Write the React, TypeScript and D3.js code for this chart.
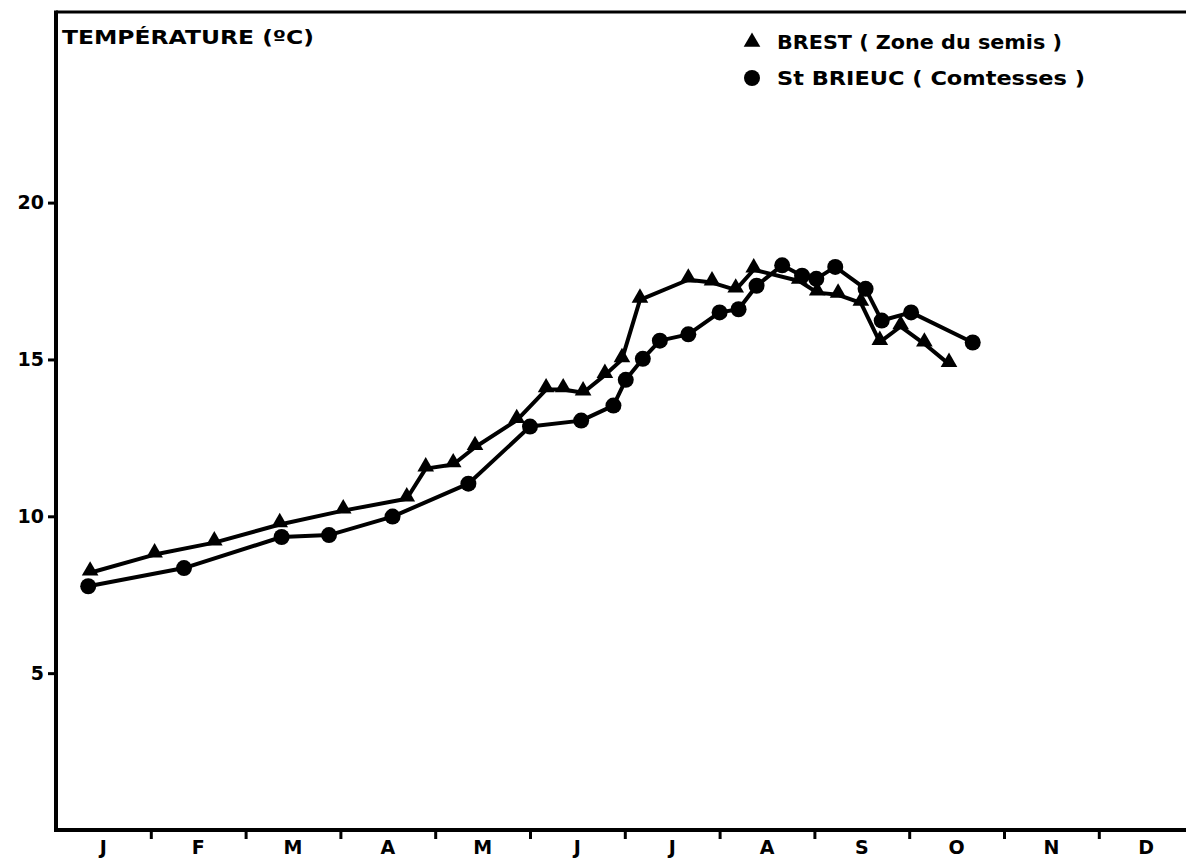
import React, { useEffect, useRef } from 'react';
import * as d3 from 'd3';

const months = ['J', 'F', 'M', 'A', 'M', 'J', 'J', 'A', 'S', 'O', 'N', 'D'];
const yTicks = [5, 10, 15, 20];

// position in months (0 = 1 January) and temperature in °C
const brestMonth = [0.36, 1.04, 1.67, 2.36, 3.03, 3.7, 3.9, 4.19, 4.42, 4.86, 5.17, 5.35, 5.56, 5.79, 5.97, 6.16, 6.67, 6.92, 7.17, 7.36, 7.84, 8.03, 8.25, 8.49, 8.69, 8.91, 9.16, 9.42];
const brestTemp = [8.2, 8.78, 9.16, 9.74, 10.18, 10.56, 11.52, 11.65, 12.2, 13.06, 14.04, 14.04, 13.94, 14.5, 15.0, 16.9, 17.54, 17.45, 17.22, 17.86, 17.5, 17.13, 17.06, 16.8, 15.55, 16.05, 15.5, 14.85];

const brieucMonth = [0.34, 1.35, 2.38, 2.88, 3.55, 4.35, 5.0, 5.54, 5.88, 6.01, 6.19, 6.37, 6.67, 7.0, 7.2, 7.39, 7.66, 7.87, 8.02, 8.22, 8.54, 8.71, 9.02, 9.67];
const brieucTemp = [7.77, 8.35, 9.34, 9.4, 9.99, 11.04, 12.86, 13.05, 13.53, 14.35, 15.02, 15.6, 15.8, 16.5, 16.6, 17.35, 18.0, 17.67, 17.57, 17.95, 17.25, 16.24, 16.5, 15.54];

const legendLabels = ['BREST ( Zone du semis )', 'St BRIEUC ( Comtesses )'];

const W = 1186;
const H = 858;
const FONT = "'DejaVu Sans', 'Liberation Sans', sans-serif";

const App: React.FC = () => {
  const ref = useRef<SVGSVGElement | null>(null);

  useEffect(() => {
    document.body.style.margin = '0';
    if (!ref.current) return;

    const left = 56;
    const top = 12;
    const bottom = 830;
    const monthW = 94.8;

    const x = d3.scaleLinear().domain([0, 12]).range([left, left + 12 * monthW]);
    const y = d3.scaleLinear().domain([0, (bottom - top) / 31.37]).range([bottom, top]);

    const svg = d3.select(ref.current).html('');
    svg.append('rect').attr('width', W).attr('height', H).attr('fill', '#fff');

    // frame
    svg.append('line').attr('x1', left).attr('x2', W).attr('y1', top).attr('y2', top)
      .attr('stroke', '#000').attr('stroke-width', 3);
    svg.append('line').attr('x1', left).attr('x2', left).attr('y1', top - 1.5).attr('y2', bottom + 2)
      .attr('stroke', '#000').attr('stroke-width', 4);
    svg.append('line').attr('x1', left - 2).attr('x2', W).attr('y1', bottom).attr('y2', bottom)
      .attr('stroke', '#000').attr('stroke-width', 4);

    // y axis
    const yAxis = svg.append('g').attr('transform', `translate(${left},0)`)
      .call(d3.axisLeft(y).tickValues(yTicks).tickSize(8).tickPadding(4));
    yAxis.select('.domain').remove();
    yAxis.selectAll('line').attr('stroke-width', 3);
    yAxis.selectAll('text').attr('font-family', FONT).attr('font-weight', 'bold')
      .attr('font-size', 19).attr('fill', '#000');

    // x axis: ticks at month boundaries, labels at month centres
    const xAxis = svg.append('g').attr('transform', `translate(0,${bottom})`)
      .call(d3.axisBottom(x).tickValues(d3.range(1, 12)).tickSize(9).tickFormat(() => ''));
    xAxis.select('.domain').remove();
    xAxis.selectAll('line').attr('stroke-width', 3);
    svg.append('g').selectAll('text').data(months).enter().append('text')
      .attr('x', (_, i) => x(i + 0.5))
      .attr('y', 854)
      .attr('text-anchor', 'middle')
      .attr('font-family', FONT).attr('font-weight', 'bold').attr('font-size', 19)
      .text((d) => d);

    // title
    svg.append('text').attr('x', 62).attr('y', 44)
      .attr('font-family', FONT).attr('font-weight', 'bold').attr('font-size', 19)
      .attr('textLength', 252).attr('lengthAdjust', 'spacingAndGlyphs')
      .text('TEMPÉRATURE (ºC)');

    const line = d3.line<[number, number]>().x((d) => x(d[0])).y((d) => y(d[1]));
    const brest = brestMonth.map((m, i) => [m, brestTemp[i]] as [number, number]);
    const brieuc = brieucMonth.map((m, i) => [m, brieucTemp[i]] as [number, number]);

    [brest, brieuc].forEach((s) => {
      svg.append('path').attr('d', line(s)!).attr('fill', 'none')
        .attr('stroke', '#000').attr('stroke-width', 4).attr('stroke-linejoin', 'round');
    });

    const tri = d3.symbol().type(d3.symbolTriangle).size(120);
    svg.append('g').selectAll('path').data(brest).enter().append('path')
      .attr('d', tri()!)
      .attr('transform', (d) => `translate(${x(d[0])},${y(d[1]) - 2})`)
      .attr('fill', '#000');
    svg.append('g').selectAll('circle').data(brieuc).enter().append('circle')
      .attr('cx', (d) => x(d[0])).attr('cy', (d) => y(d[1])).attr('r', 8)
      .attr('fill', '#000');

    // legend
    const lg = svg.append('g');
    lg.append('path').attr('d', tri()!).attr('transform', 'translate(752,42)').attr('fill', '#000');
    lg.append('circle').attr('cx', 752).attr('cy', 78).attr('r', 8).attr('fill', '#000');
    legendLabels.forEach((t, i) => {
      lg.append('text').attr('x', 777).attr('y', 49 + i * 36)
        .attr('font-family', FONT).attr('font-weight', 'bold').attr('font-size', 19)
        .attr('textLength', i === 0 ? 285 : 308).attr('lengthAdjust', 'spacingAndGlyphs')
        .text(t);
    });
  }, []);

  return <svg ref={ref} width={W} height={H} style={{ display: 'block' }} />;
};

export default App;
